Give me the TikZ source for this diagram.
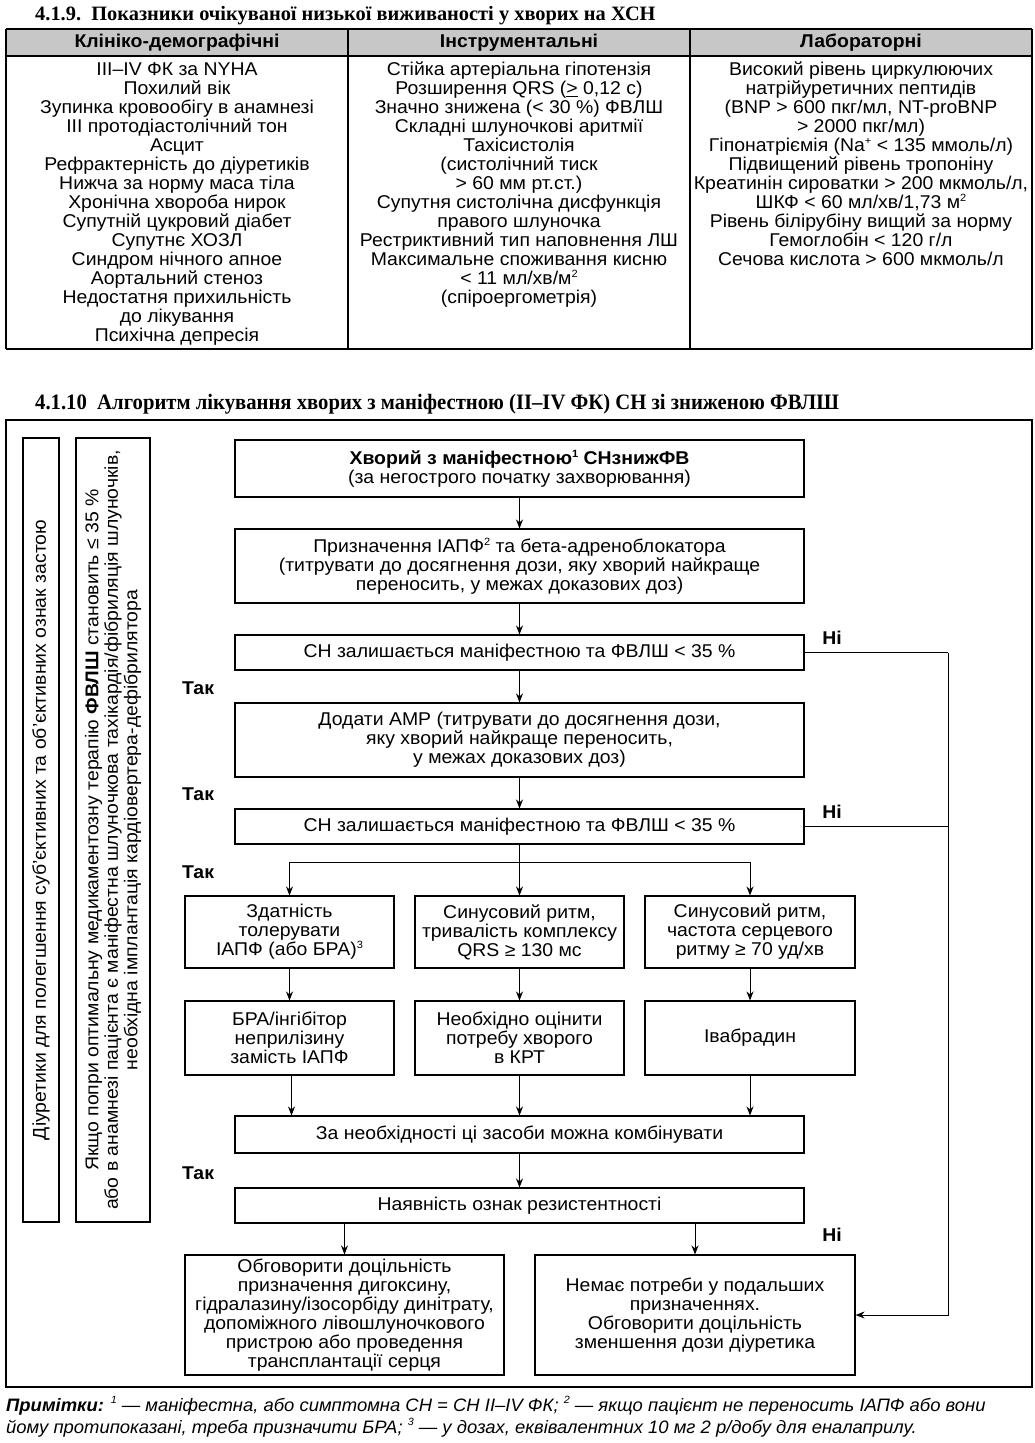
\documentclass[tikz,border=0pt]{standalone}
\usepackage{fontspec}
\setmainfont{Liberation Sans}[FakeStretch=1.05]
\newfontfamily\serifb{Liberation Serif}
\newfontfamily\serifc{Liberation Serif}[FakeStretch=0.94]
\newfontfamily\notefont{Liberation Sans}[FakeStretch=1.025]
\newcommand\supx[1]{\raisebox{0.75ex}{\fontsize{10.5}{10.5}\selectfont #1}}
\usetikzlibrary{arrows.meta}
\begin{document}
\begin{tikzpicture}[x=1pt,y=-1pt,
  txt/.style={font=\fontsize{18.5}{19}\selectfont, align=center, inner sep=0pt},
  box/.style={draw, line width=1.1pt, font=\fontsize{18.5}{19}\selectfont, align=center, inner sep=0pt},
  arr/.style={line width=1pt, -{Stealth[length=9pt,width=7pt]}},
  ln/.style={line width=1pt},
  lbl/.style={font=\bfseries\fontsize{18.5}{19}\selectfont, inner sep=0pt}]
\fill[white] (0,0) rectangle (1034,1443);
\useasboundingbox (0,0) rectangle (1034,1443);

% ---------- Table 4.1.9 ----------
\node[anchor=base west, inner sep=0pt, font=\serifb\bfseries\fontsize{20.4}{22}\selectfont] (t1) at (35,20) {4.1.9.\ \ Показники очікуваної низької виживаності у хворих на ХСН};
\fill[black!22] (6,29) rectangle (1032,56);
\draw[line width=1.6pt] (6,29) -- (1032,29);
\draw[line width=1.2pt] (6,56) -- (1032,56);
\draw[line width=2pt] (6,349) -- (1032,349);
\foreach \xx in {6,348,690,1032} \draw[line width=1.2pt] (\xx,29) -- (\xx,349);
\node[lbl] (h1) at (177,42.5) {Клініко-демографічні};
\node[lbl] (h2) at (519,42.5) {Інструментальні};
\node[lbl] (h3) at (861,42.5) {Лабораторні};

\node[txt, anchor=north] (c1) at (177,62) {III–IV ФК за NYHA\\Похилий вік\\Зупинка кровообігу в анамнезі\\III протодіастолічний тон\\Асцит\\Рефрактерність до діуретиків\\Нижча за норму маса тіла\\Хронічна хвороба нирок\\Супутній цукровий діабет\\Супутнє ХОЗЛ\\Синдром нічного апное\\Аортальний стеноз\\Недостатня прихильність\\до лікування\\Психічна депресія};
\node[txt, anchor=north] (c2) at (519,62) {Стійка артеріальна гіпотензія\\Розширення QRS (\underline{>} 0,12 с)\\Значно знижена (< 30 \%) ФВЛШ\\Складні шлуночкові аритмії\\Тахісистолія\\(систолічний тиск\\> 60 мм рт.ст.)\\Супутня систолічна дисфункція\\правого шлуночка\\Рестриктивний тип наповнення ЛШ\\Максимальне споживання кисню\\< 11 мл/хв/м\supx{2}\\(спіроергометрія)};
\node[txt, anchor=north] (c3) at (861,62) {Високий рівень циркулюючих\\натрійуретичних пептидів\\(BNP > 600 пкг/мл, NT-proBNP\\> 2000 пкг/мл)\\Гіпонатріємія (Na\supx{+} < 135 ммоль/л)\\Підвищений рівень тропоніну\\Креатинін сироватки > 200 мкмоль/л,\\ШКФ < 60 мл/хв/1,73 м\supx{2}\\Рівень білірубіну вищий за норму\\Гемоглобін < 120 г/л\\Сечова кислота > 600 мкмоль/л};

% ---------- Algorithm 4.1.10 ----------
\node[anchor=base west, inner sep=0pt, font=\serifc\bfseries\fontsize{22}{24}\selectfont] (t2) at (35,409) {4.1.10\ \ Алгоритм лікування хворих з маніфестною (II–IV ФК) СН зі зниженою ФВЛШ};
\draw[line width=1.2pt] (6,420) rectangle (1032,1387);

\node[draw, line width=1.1pt, minimum width=36pt, minimum height=784pt, inner sep=0pt] (v1) at (41,830) {};
\node[txt, rotate=90] at (v1.center) {Діуретики для полегшення суб’єктивних та об’єктивних ознак застою};
\node[draw, line width=1.1pt, minimum width=74pt, minimum height=784pt, inner sep=0pt] (v2) at (113,830) {};
\node[txt, rotate=90, font=\fontsize{18.5}{19.5}\selectfont] at (v2.center) {Якщо попри оптимальну медикаментозну терапію \textbf{ФВЛШ} становить ≤ 35 \%\\або в анамнезі пацієнта є маніфестна шлуночкова тахікардія/фібриляція шлуночків,\\необхідна імплантація кардіовертера-дефібрилятора};

\node[box, minimum width=569pt, minimum height=57pt] (b1) at (519.5,468.5) {\textbf{Хворий з маніфестною\supx{1} СНзнижФВ}\\(за негострого початку захворювання)};
\node[box, minimum width=569pt, minimum height=74pt] (b2) at (519.5,566) {Призначення ІАПФ\supx{2} та бета-адреноблокатора\\(титрувати до досягнення дози, яку хворий найкраще\\переносить, у межах доказових доз)};
\node[box, minimum width=569pt, minimum height=35pt] (b3) at (519.5,652.5) {СН залишається маніфестною та ФВЛШ < 35 \%};
\node[box, minimum width=569pt, minimum height=74pt] (b4) at (519.5,740) {Додати АМР (титрувати до досягнення дози,\\яку хворий найкраще переносить,\\у межах доказових доз)};
\node[box, minimum width=569pt, minimum height=35pt] (b5) at (519.5,826.5) {СН залишається маніфестною та ФВЛШ < 35 \%};

\node[box, minimum width=209pt, minimum height=72pt] (r1a) at (289.5,932) {Здатність\\толерувати\\ІАПФ (або БРА)\supx{3}};
\node[box, minimum width=209pt, minimum height=72pt] (r1b) at (519.5,932) {Синусовий ритм,\\тривалість комплексу\\QRS ≥ 130 мс};
\node[box, minimum width=210pt, minimum height=72pt] (r1c) at (750,932) {Синусовий ритм,\\частота серцевого\\ритму ≥ 70 уд/хв};
\node[box, minimum width=209pt, minimum height=74pt] (r2a) at (289.5,1038) {БРА/інгібітор\\неприлізину\\замість ІАПФ};
\node[box, minimum width=209pt, minimum height=74pt] (r2b) at (519.5,1038) {Необхідно оцінити\\потребу хворого\\в КРТ};
\node[box, minimum width=210pt, minimum height=74pt] (r2c) at (750,1038) {Івабрадин};

\node[box, minimum width=569pt, minimum height=37pt] (b6) at (519.5,1134.5) {За необхідності ці засоби можна комбінувати};
\node[box, minimum width=569pt, minimum height=35pt] (b7) at (519.5,1205.5) {Наявність ознак резистентності};
\node[box, minimum width=319pt, minimum height=120pt] (bl) at (344.5,1315) {Обговорити доцільність\\призначення дигоксину,\\гідралазину/ізосорбіду динітрату,\\допоміжного лівошлуночкового\\пристрою або проведення\\трансплантації серця};
\node[box, minimum width=320pt, minimum height=120pt] (br) at (695,1315) {Немає потреби у подальших\\призначеннях.\\Обговорити доцільність\\зменшення дози діуретика};

% arrows
\draw[arr] (b1) -- (b2);
\draw[arr] (b2) -- (b3);
\draw[arr] (b3) -- (b4);
\draw[arr] (b4) -- (b5);
\coordinate (sp) at (519.5,862);
\draw[arr] (b5) -- (r1b);
\draw[ln] (sp -| r1a) -- (sp -| r1c);
\draw[arr] (sp -| r1a) -- (r1a);
\draw[arr] (sp -| r1c) -- (r1c);
\draw[arr] (r1a) -- (r2a);
\draw[arr] (r1b) -- (r2b);
\draw[arr] (r1c) -- (r2c);
\draw[arr] ([xshift=2pt]r2a.south) -- ([xshift=2pt]r2a.south |- b6.north);
\draw[arr] (r2b) -- (r2b.south |- b6.north);
\draw[arr] (r2c) -- (r2c.south |- b6.north);
\draw[arr] (b6) -- (b7);
\draw[arr] (b7.south -| bl) -- (bl);
\draw[arr] (b7.south -| br) -- (br);
\coordinate (nr) at (948,652.5);
\draw[ln] (b3.east) -- (nr);
\draw[ln] (b5.east) -- (nr |- b5.east);
\draw[arr] (nr) -- (nr |- br.east) -- (br.east);

% labels
\node[lbl] (y1) at (198,688) {Так};
\node[lbl] (y2) at (198,794) {Так};
\node[lbl] (y3) at (198,872) {Так};
\node[lbl] (y4) at (198,1173) {Так};
\node[lbl] (n1) at (832,638) {Ні};
\node[lbl] (n2) at (832,812) {Ні};
\node[lbl] (n3) at (832,1235) {Ні};

% notes
\node[anchor=base west, inner sep=0pt, align=left, font=\notefont\itshape\fontsize{18}{22}\selectfont] (notes) at (6,1433) {\textbf{Примітки:} \supx{1} — маніфестна, або симптомна СН = СН II–IV ФК; \supx{2} — якщо пацієнт не переносить ІАПФ або вони\\йому протипоказані, треба призначити БРА; \supx{3} — у дозах, еквівалентних 10 мг 2 р/добу для еналаприлу.};
\end{tikzpicture}
\end{document}
